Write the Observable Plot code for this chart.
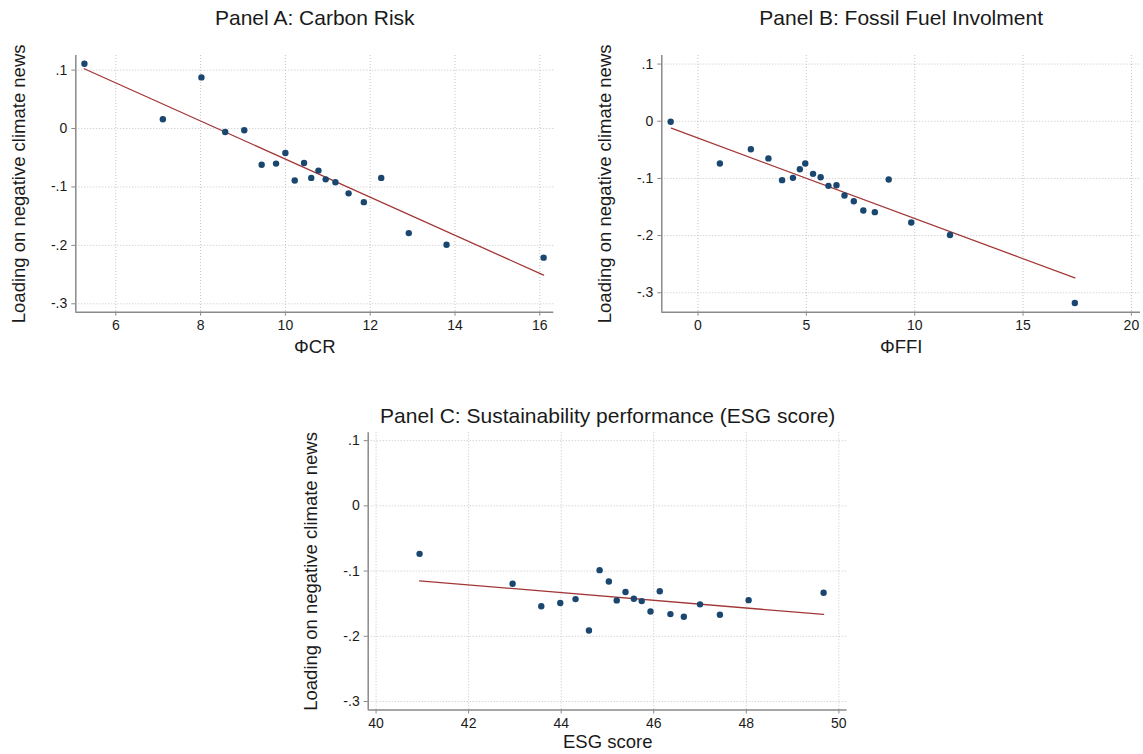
<!DOCTYPE html>
<html>
<head>
<meta charset="utf-8">
<script src="https://cdn.jsdelivr.net/npm/d3@7"></script>
<script src="https://cdn.jsdelivr.net/npm/@observablehq/plot@0.6"></script>
<style>
  html, body { margin: 0; padding: 0; background: #fff; }
  #root { position: relative; width: 1143px; height: 754px; background: #fff; overflow: hidden; }
  #root > div { position: absolute; }
  svg { overflow: visible; }
  g[aria-label="x-axis tick label"], g[aria-label="y-axis tick label"] { font-size: 14px; }
</style>
</head>
<body>
<div id="root">
  <div id="panelA" style="left:0px; top:0px;"></div>
  <div id="panelB" style="left:571px; top:0px;"></div>
  <div id="panelC" style="left:290px; top:380px;"></div>
</div>
<script>
// ---------- Data ----------
const yLabel = "Loading on negative climate news";
const yTicks = [0.1, 0, -0.1, -0.2, -0.3];
const yTickLabels = [".1", "0", "-.1", "-.2", "-.3"];

// Panel A: Carbon Risk
const titleA = "Panel A: Carbon Risk";
const xLabelA = "ΦCR";
const xTicksA = [6, 8, 10, 12, 14, 16];
const crX = [5.26, 7.11, 8.02, 8.58, 9.03, 9.44, 9.78, 10.0, 10.22, 10.44, 10.61, 10.78, 10.95, 11.18, 11.49, 11.85, 12.26, 12.91, 13.80, 16.09];
const crY = [0.111, 0.016, 0.0875, -0.006, -0.003, -0.062, -0.060, -0.042, -0.089, -0.059, -0.0845, -0.072, -0.087, -0.092, -0.111, -0.126, -0.0845, -0.179, -0.199, -0.221];
const crFitX = [5.256, 16.09];
const crFitY = [0.1023, -0.2509];

// Panel B: Fossil Fuel Involvement
const titleB = "Panel B: Fossil Fuel Involment";
const xLabelB = "ΦFFI";
const xTicksB = [0, 5, 10, 15, 20];
const ffiX = [-1.26, 1.01, 2.44, 3.25, 3.88, 4.38, 4.70, 4.95, 5.31, 5.66, 6.02, 6.39, 6.76, 7.19, 7.63, 8.16, 8.80, 9.84, 11.63, 17.39];
const ffiY = [-0.001, -0.074, -0.049, -0.065, -0.103, -0.099, -0.084, -0.074, -0.092, -0.098, -0.113, -0.112, -0.130, -0.140, -0.156, -0.159, -0.102, -0.177, -0.199, -0.318];
const ffiFitX = [-1.23, 17.39];
const ffiFitY = [-0.0122, -0.274];

// Panel C: ESG score
const titleC = "Panel C: Sustainability performance (ESG score)";
const xLabelC = "ESG score";
const xTicksC = [40, 42, 44, 46, 48, 50];
const esgX = [40.94, 42.95, 43.57, 43.98, 44.31, 44.60, 44.83, 45.03, 45.20, 45.39, 45.57, 45.74, 45.93, 46.13, 46.36, 46.65, 47.00, 47.43, 48.05, 49.67];
const esgY = [-0.0736, -0.1195, -0.154, -0.149, -0.143, -0.191, -0.0986, -0.116, -0.145, -0.132, -0.1425, -0.146, -0.162, -0.131, -0.166, -0.170, -0.151, -0.167, -0.1446, -0.1333];
const esgFitX = [40.94, 49.67];
const esgFitY = [-0.115, -0.1665];

// ---------- Drawing ----------
const FONT = "'Liberation Sans', Arial, Helvetica, sans-serif";
const DOT = "#1a476f";
const FIT = "#a23636";
const AXIS = "#8a8a8a";
const GRID = "#c4c4c4";
const TEXT = "#1a1a1a";

function panel(o) {
  const pts = o.xs.map((x, i) => ({x, y: o.ys[i]}));
  const fit = o.fitX.map((x, i) => ({x, y: o.fitY[i]}));
  return Plot.plot({
    width: o.width, height: o.height,
    marginLeft: o.ml, marginRight: o.mr, marginTop: o.mt, marginBottom: o.mb,
    style: {fontFamily: FONT, fontSize: "14px", color: TEXT, background: "transparent"},
    x: {domain: o.xDomain},
    y: {domain: o.yDomain},
    marks: [
      Plot.gridX(o.xTicks, {stroke: GRID, strokeOpacity: 1, strokeWidth: 1, strokeDasharray: "1,2"}),
      Plot.gridY(yTicks, {stroke: GRID, strokeOpacity: 1, strokeWidth: 1, strokeDasharray: "1,2"}),
      Plot.ruleX([o.xDomain[0]], {stroke: AXIS, strokeWidth: 1.5}),
      Plot.ruleY([o.yDomain[0]], {stroke: AXIS, strokeWidth: 1.5}),
      Plot.axisX(o.xTicks, {anchor: "bottom", tickSize: 4, tickPadding: 4, stroke: AXIS, fill: TEXT, fontSize: 14, label: null, tickFormat: d => String(d)}),
      Plot.axisY(yTicks, {anchor: "left", tickSize: 4, tickPadding: 4.5, stroke: AXIS, fill: TEXT, fontSize: 14, label: null,
        tickFormat: d => yTickLabels[yTicks.indexOf(d)]}),
      Plot.line(fit, {x: "x", y: "y", stroke: FIT, strokeWidth: 1.3}),
      Plot.dot(pts, {x: "x", y: "y", r: 3.2, fill: DOT, stroke: "none"}),
      Plot.text([o.xLabel], {frameAnchor: "bottom", lineAnchor: "middle", textAnchor: "middle", dy: o.xLabelDy, fontSize: 18.5, fill: TEXT}),
      Plot.text([yLabel], {frameAnchor: "left", lineAnchor: "middle", textAnchor: "middle", rotate: -90, dx: -57, fontSize: 18.5, fill: TEXT}),
      Plot.text([o.title], {frameAnchor: "top", lineAnchor: "middle", textAnchor: "middle", dy: o.titleDy, fontSize: 21, fill: TEXT})
    ]
  });
}

document.getElementById("panelA").appendChild(panel({
  xs: crX, ys: crY, fitX: crFitX, fitY: crFitY,
  xTicks: xTicksA, xDomain: [5.057, 16.33], yDomain: [-0.3144, 0.125],
  width: 571, height: 370, ml: 75.3, mr: 17.7, mt: 55, mb: 58.3,
  xLabel: xLabelA, xLabelDy: 34.7, title: titleA, titleDy: -37.5
}));

document.getElementById("panelB").appendChild(panel({
  xs: ffiX, ys: ffiY, fitX: ffiFitX, fitY: ffiFitY,
  xTicks: xTicksB, xDomain: [-1.67, 20.42], yDomain: [-0.334, 0.115],
  width: 572, height: 370, ml: 90.3, mr: 3, mt: 55, mb: 58.3,
  xLabel: xLabelB, xLabelDy: 34.7, title: titleB, titleDy: -37.5
}));

document.getElementById("panelC").appendChild(panel({
  xs: esgX, ys: esgY, fitX: esgFitX, fitY: esgFitY,
  xTicks: xTicksC, xDomain: [39.83, 50.18], yDomain: [-0.313, 0.112],
  width: 570, height: 374, ml: 77.7, mr: 13.3, mt: 52.3, mb: 44.5,
  xLabel: xLabelC, xLabelDy: 32, title: titleC, titleDy: -16.5
}));
</script>
</body>
</html>
